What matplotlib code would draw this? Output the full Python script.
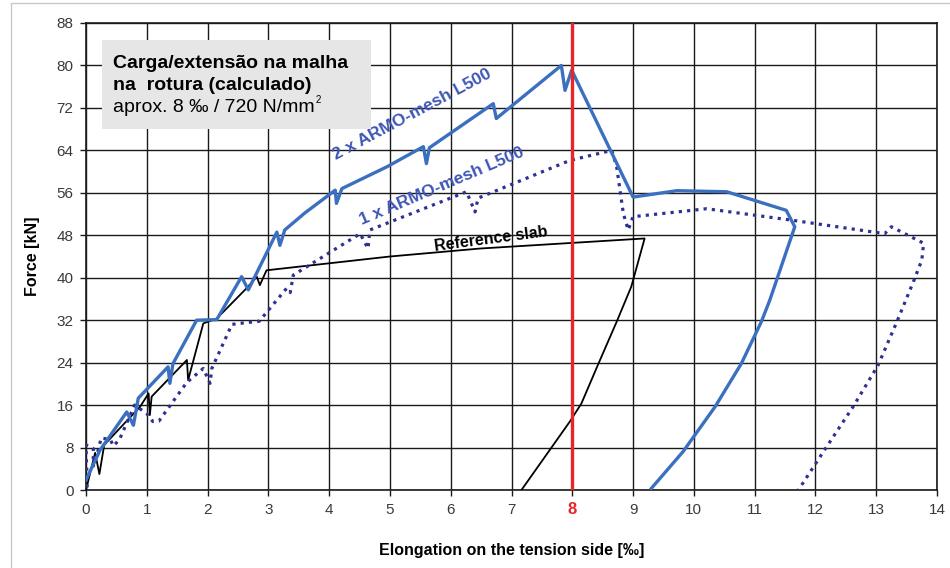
import matplotlib
matplotlib.use("Agg")
import matplotlib.pyplot as plt
from matplotlib.patches import Rectangle

plt.rcParams['font.family'] = ['Liberation Sans', 'DejaVu Sans']

# 2 x ARMO-mesh L500 (solid blue)
mesh2_x = [0.0, 0.23, 0.67, 0.78, 0.86, 1.35, 1.38, 1.43, 1.82, 2.15, 2.56, 2.67, 3.14, 3.19,
           3.27, 3.6, 4.10, 4.12, 4.21, 4.95, 5.55, 5.60, 5.65, 6.70, 6.75, 7.82, 7.88, 7.99,
           9.0, 9.72, 10.54, 11.52, 11.66, 11.25, 11.11, 10.78, 10.35, 9.82, 9.30]
mesh2_y = [1.9, 7.5, 14.7, 12.2, 17.3, 23.2, 20.1, 23.8, 32.0, 32.1, 40.2, 37.7, 48.6, 46.1,
           49.0, 52.2, 56.5, 54.0, 56.8, 60.9, 64.7, 61.5, 64.5, 72.8, 70.0, 80.0, 75.3, 79.1,
           55.2, 56.4, 56.2, 52.7, 49.6, 35.8, 31.7, 23.8, 15.7, 7.2, 0.3]

# 1 x ARMO-mesh L500 (dotted navy)
mesh1_x = [0.02, 0.0, 0.12, 0.12, 0.2, 0.25, 0.4, 0.45, 0.55, 0.8, 1.0, 1.1, 1.2, 1.66, 1.93,
           2.04, 2.07, 2.40, 2.53, 2.85, 3.3, 3.36, 3.41, 4.51, 4.64, 4.67, 6.26, 6.40, 6.45,
           7.96, 8.65, 8.73, 8.84, 8.92, 9.0, 10.21, 11.64, 13.14, 13.25, 13.78, 13.75, 13.61,
           13.34, 13.03, 12.62, 12.13, 11.72]
mesh1_y = [0.5, 8.5, 7.8, 4.5, 7.5, 9.8, 9.5, 8.3, 9.5, 16.0, 14.4, 12.9, 13.0, 20.3, 22.9,
           20.1, 22.9, 31.2, 31.4, 31.8, 38.0, 37.2, 40.5, 48.3, 45.5, 49.0, 56.2, 52.4, 55.0,
           62.1, 64.0, 60.9, 52.1, 49.0, 51.5, 53.0, 50.8, 48.3, 49.6, 46.5, 43.3, 39.2,
           31.7, 23.5, 15.7, 7.2, 0.0]

# Reference slab (thin black)
ref_x = [0.0, 0.15, 0.22, 0.3, 0.75, 0.89, 1.03, 1.05, 1.08, 1.66, 1.68, 1.93, 2.15, 2.64, 2.81,
         2.86, 2.97, 5.0, 6.48, 9.19, 8.97, 8.73, 8.43, 8.15, 7.96, 7.17]
ref_y = [0.0, 7.0, 3.0, 8.5, 14.0, 15.7, 18.2, 14.1, 17.6, 24.5, 20.7, 31.4, 32.3, 38.0, 40.2,
         38.6, 41.4, 44.0, 45.5, 47.4, 38.3, 31.7, 23.8, 16.3, 12.9, 0.1]

x_ticks = list(range(0, 15))
y_ticks = list(range(0, 89, 8))
rupture_strain = 8

fig = plt.figure(figsize=(9.5, 5.68), dpi=100)
ax = fig.add_axes([86 / 950, 1 - 490 / 568, (937 - 86) / 950, (490 - 23) / 568])

ax.set_xlim(0, 14)
ax.set_ylim(0, 88)
ax.set_xticks(x_ticks)
ax.set_yticks(y_ticks)
ax.grid(True, color='#1a1a1a', lw=1.0)
ax.set_axisbelow(True)
for s in ax.spines.values():
    s.set_color('#1a1a1a')
    s.set_linewidth(1.2)
ax.tick_params(length=4, width=1.0, color='#1a1a1a', labelsize=11, labelcolor='#3a3a3a', pad=5)

ax.plot(ref_x, ref_y, color='black', lw=1.3, zorder=3)
ax.plot(mesh1_x, mesh1_y, color='#2E3192', lw=2.3, linestyle=(0, (1, 1.6)), zorder=3)
ax.plot(mesh2_x, mesh2_y, color='#3B70C0', lw=2.4, zorder=4)
ax.plot([rupture_strain, rupture_strain], [0, 88], color='#E8262A', lw=2.4, zorder=5)

for lab in ax.get_xticklabels():
    if lab.get_text() == str(rupture_strain):
        lab.set_color('#E8262A')
        lab.set_fontweight('bold')
        lab.set_fontsize(12)

ax.set_xlabel('Elongation on the tension side [‰]', fontsize=11.5, fontweight='bold', labelpad=18)
ax.set_ylabel('Force [kN]', fontsize=11.5, fontweight='bold', labelpad=12)

ax.text(5.36, 70.8, '2 x ARMO-mesh L500', color='#3D55B5', fontsize=12.5, fontweight='bold',
        rotation=28, ha='center', va='center', rotation_mode='anchor', zorder=6)
ax.text(5.86, 57.2, '1 x ARMO-mesh L500', color='#3D55B5', fontsize=12.5, fontweight='bold',
        rotation=23, ha='center', va='center', rotation_mode='anchor', zorder=6)
ax.text(6.66, 47.3, 'Reference slab', color='black', fontsize=11.5, fontweight='bold',
        rotation=7.5, ha='center', va='center', rotation_mode='anchor', zorder=6)

# annotation box
fig.patches.append(Rectangle((102 / 950, 1 - 129 / 568), 269 / 950, 89 / 568,
                             transform=fig.transFigure, facecolor='#E6E6E6', edgecolor='none',
                             zorder=10))
fig.text(113 / 950, 1 - 63 / 568, 'Carga/extensão na malha', fontsize=14, fontweight='bold',
         va='center', zorder=11)
fig.text(113 / 950, 1 - 85 / 568, 'na  rotura (calculado)', fontsize=14, fontweight='bold',
         va='center', zorder=11)
t3 = fig.text(113 / 950, 1 - 107 / 568, 'aprox. 8 ‰ / 720 N/mm', fontsize=14,
              va='center', zorder=11)
fig.canvas.draw()
bb = t3.get_window_extent()
fig.text(bb.x1 / 950 + 0.001, 1 - 100 / 568, '2', fontsize=7, va='center', zorder=11)

# light frame of the original picture
fig.patches.append(Rectangle((11 / 950, -0.1), 1.2, 1.1 - 3 / 568, transform=fig.transFigure,
                             fill=False, edgecolor='#c8c8c8', lw=1.0))

fig.savefig('out.png', dpi=100)
